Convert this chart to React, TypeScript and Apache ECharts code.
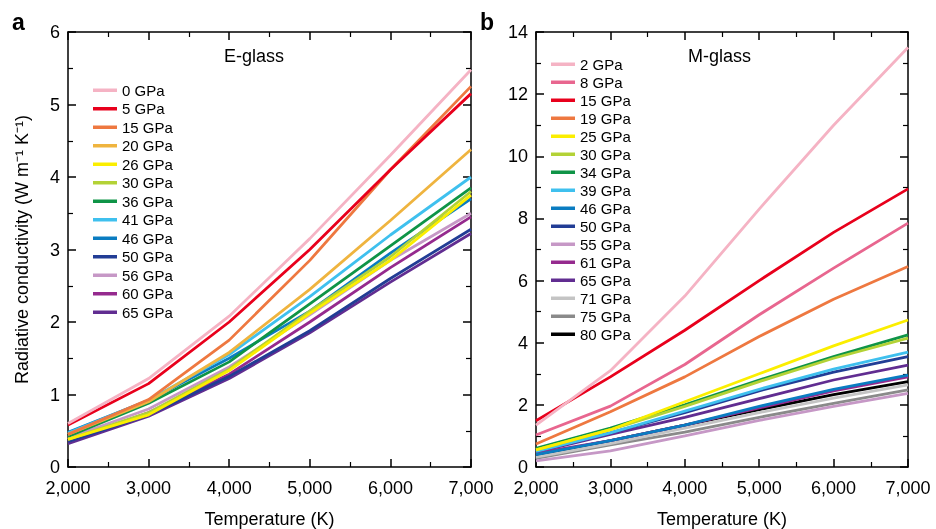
import React, { useEffect, useRef } from "react";
import * as echarts from "echarts";

const temps = [2000, 3000, 4000, 5000, 6000, 7000];

const eNames = ["0 GPa", "5 GPa", "15 GPa", "20 GPa", "26 GPa", "30 GPa", "36 GPa", "41 GPa", "46 GPa", "50 GPa", "56 GPa", "60 GPa", "65 GPa"];
const eColors = ["#f5b3c4", "#e8001c", "#ee7840", "#efb43f", "#fbee00", "#b3d236", "#0f9447", "#3fc0ee", "#0a7cc1", "#223d95", "#c698c6", "#952a8e", "#612d91"];
const eValues = [
  [0.6, 1.22, 2.08, 3.15, 4.3, 5.48],
  [0.58, 1.15, 2.0, 3.0, 4.1, 5.15],
  [0.45, 0.93, 1.75, 2.85, 4.1, 5.25],
  [0.45, 0.9, 1.58, 2.45, 3.4, 4.38],
  [0.38, 0.72, 1.33, 2.12, 2.85, 3.75],
  [0.38, 0.75, 1.35, 2.15, 2.9, 3.8],
  [0.42, 0.88, 1.45, 2.25, 3.05, 3.85],
  [0.47, 0.92, 1.55, 2.35, 3.2, 4.0],
  [0.48, 0.92, 1.5, 2.15, 2.95, 3.7],
  [0.35, 0.72, 1.25, 1.88, 2.6, 3.28],
  [0.4, 0.8, 1.38, 2.1, 2.85, 3.5],
  [0.35, 0.75, 1.28, 2.0, 2.75, 3.45],
  [0.32, 0.7, 1.22, 1.85, 2.55, 3.22],
];

const mNames = ["2 GPa", "8 GPa", "15 GPa", "19 GPa", "25 GPa", "30 GPa", "34 GPa", "39 GPa", "46 GPa", "50 GPa", "55 GPa", "61 GPa", "65 GPa", "71 GPa", "75 GPa", "80 GPa"];
const mColors = ["#f5b3c4", "#e8668f", "#e8001c", "#ee7840", "#fbee00", "#b3d236", "#0f9447", "#3fc0ee", "#0a7cc1", "#223d95", "#c698c6", "#952a8e", "#612d91", "#c4c4c4", "#8a8a8a", "#000000"];
const mValues = [
  [1.35, 3.1, 5.5, 8.3, 11.0, 13.5],
  [1.03, 1.96, 3.3, 4.9, 6.4, 7.85],
  [1.49, 2.9, 4.4, 6.0, 7.55, 8.95],
  [0.74, 1.78, 2.9, 4.2, 5.4, 6.45],
  [0.55, 1.2, 2.1, 3.0, 3.9, 4.73],
  [0.55, 1.2, 1.95, 2.75, 3.5, 4.15],
  [0.6, 1.25, 2.0, 2.8, 3.55, 4.25],
  [0.5, 1.1, 1.8, 2.5, 3.15, 3.7],
  [0.4, 0.85, 1.35, 1.95, 2.5, 2.96],
  [0.5, 1.1, 1.75, 2.45, 3.05, 3.55],
  [0.2, 0.52, 1.0, 1.5, 1.95, 2.37],
  [0.45, 0.85, 1.35, 1.9, 2.45, 2.9],
  [0.48, 1.05, 1.6, 2.2, 2.8, 3.28],
  [0.32, 0.75, 1.25, 1.75, 2.22, 2.64],
  [0.28, 0.71, 1.12, 1.6, 2.05, 2.48],
  [0.39, 0.85, 1.35, 1.85, 2.33, 2.75],
];

const FONT = "Liberation Sans, Arial, Helvetica, sans-serif";

export default function App() {
  const ref = useRef<HTMLDivElement>(null);
  useEffect(() => {
    if (!ref.current) return;
    const chart = echarts.init(ref.current, null, { renderer: "svg" });
    const fmt = (v: number) => v.toLocaleString("en-US");
    const axisLine = { show: true, onZero: false, lineStyle: { color: "#000", width: 1.5 } };
    const tick = { show: true, inside: true, length: 8, lineStyle: { color: "#000", width: 1.5 } };
    const minor = { show: true, splitNumber: 2, length: 5, lineStyle: { color: "#000", width: 1.2 } };
    const label = { color: "#000", fontSize: 18, fontFamily: FONT };
    const mkX = (grid: number, pos: "bottom" | "top", show: boolean) => ({
      type: "value", gridIndex: grid, position: pos, min: 2000, max: 7000, interval: 1000,
      axisLine, axisTick: tick, minorTick: minor, splitLine: { show: false },
      axisLabel: show ? { ...label, margin: 12, formatter: fmt } : { show: false },
      name: show ? "Temperature (K)" : "", nameLocation: "middle", nameGap: 43,
      nameTextStyle: { color: "#000", fontSize: 18, fontFamily: FONT },
    });
    const mkY = (grid: number, pos: "left" | "right", show: boolean, max: number, interval: number, name: string) => ({
      type: "value", gridIndex: grid, position: pos, min: 0, max, interval,
      axisLine, axisTick: tick, minorTick: minor, splitLine: { show: false },
      axisLabel: show ? { ...label, margin: 8 } : { show: false },
      name, nameLocation: "middle", nameGap: 37,
      nameTextStyle: { color: "#000", fontSize: 18, fontFamily: FONT },
    });
    const series: any[] = [];
    eNames.forEach((n, i) => {
      series.push({
        type: "line", name: "a|" + n, xAxisIndex: 0, yAxisIndex: 0, symbol: "none",
        lineStyle: { width: 2.8, color: eColors[i] }, itemStyle: { color: eColors[i] },
        data: temps.map((t, j) => [t, eValues[i][j]]), z: 20 - i,
      });
    });
    mNames.forEach((n, i) => {
      series.push({
        type: "line", name: "b|" + n, xAxisIndex: 2, yAxisIndex: 2, symbol: "none",
        lineStyle: { width: 2.8, color: mColors[i] }, itemStyle: { color: mColors[i] },
        data: temps.map((t, j) => [t, mValues[i][j]]), z: 20 - i,
      });
    });
    const legendCommon = {
      orient: "vertical", icon: "rect", itemWidth: 24, itemHeight: 3.5, itemGap: 0,
      selectedMode: false,
      textStyle: { color: "#000", fontSize: 15, fontFamily: FONT, lineHeight: 18.5 },
      formatter: (name: string) => name.split("|")[1],
    };
    chart.setOption({
      animation: false,
      grid: [
        { left: 68, top: 32, width: 403, height: 435, outerBoundsMode: "none", containLabel: false },
        { left: 536, top: 32, width: 372, height: 435, outerBoundsMode: "none", containLabel: false },
      ],
      xAxis: [mkX(0, "bottom", true), mkX(0, "top", false), mkX(1, "bottom", true), mkX(1, "top", false)],
      yAxis: [
        mkY(0, "left", true, 6, 1, "Radiative conductivity (W m\u207B\u00B9 K\u207B\u00B9)"),
        mkY(0, "right", false, 6, 1, ""),
        mkY(1, "left", true, 14, 2, ""),
        mkY(1, "right", false, 14, 2, ""),
      ],
      legend: [
        { ...legendCommon, left: 88, top: 76, data: eNames.map((n) => "a|" + n) },
        { ...legendCommon, left: 546, top: 50, itemGap: -0.5, data: mNames.map((n) => "b|" + n) },
      ],
      graphic: [
        { type: "text", left: 12, top: 10, style: { text: "a", fontSize: 23, fontWeight: "bold", fontFamily: FONT, fill: "#000" } },
        { type: "text", left: 480, top: 10, style: { text: "b", fontSize: 23, fontWeight: "bold", fontFamily: FONT, fill: "#000" } },
        { type: "text", left: 224, top: 47, style: { text: "E-glass", fontSize: 18, fontFamily: FONT, fill: "#000" } },
        { type: "text", left: 688, top: 47, style: { text: "M-glass", fontSize: 18, fontFamily: FONT, fill: "#000" } },
      ],
      series,
    });
    return () => chart.dispose();
  }, []);
  return <div ref={ref} style={{ position: "fixed", left: 0, top: 0, width: 936, height: 529 }} />;
}
